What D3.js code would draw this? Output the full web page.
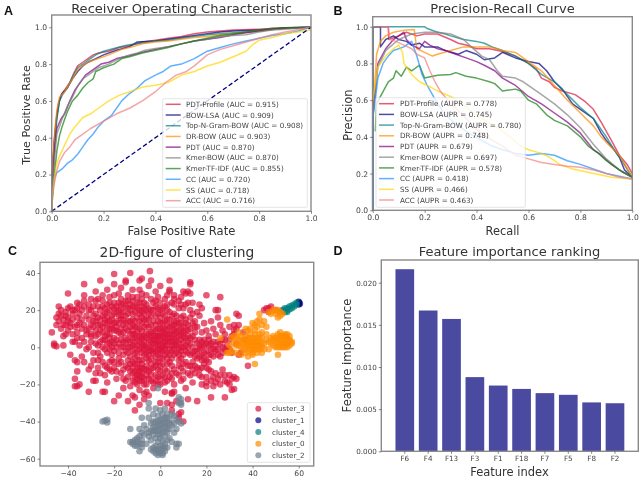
<!DOCTYPE html>
<html><head><meta charset="utf-8">
<script src="https://cdn.jsdelivr.net/npm/d3@7"></script>
<style>html,body{margin:0;padding:0;background:#fff}svg{display:block;filter:blur(0.4px)}text{font-family:"DejaVu Sans",sans-serif}</style>
</head><body><svg id="c" width="642" height="481"></svg>
<script>
const rocNames=["PDT-Profile (AUC = 0.915)","BOW-LSA (AUC = 0.909)","Top-N-Gram-BOW (AUC = 0.908)","DR-BOW (AUC = 0.903)","PDT (AUC = 0.870)","Kmer-BOW (AUC = 0.870)","Kmer-TF-IDF (AUC = 0.855)","CC (AUC = 0.720)","SS (AUC = 0.718)","ACC (AUC = 0.716)"];
const prNames=["PDT-Profile (AUPR = 0.778)","BOW-LSA (AUPR = 0.745)","Top-N-Gram-BOW (AUPR = 0.780)","DR-BOW (AUPR = 0.748)","PDT (AUPR = 0.679)","Kmer-BOW (AUPR = 0.697)","Kmer-TF-IDF (AUPR = 0.578)","CC (AUPR = 0.418)","SS (AUPR = 0.466)","ACC (AUPR = 0.463)"];
const lineColors=["#dc143c","#000080","#008080","#ff8c00","#800080","#808080","#138013","#1e90ff","#ffd700","#f08080"];

const rocProfile=[[0,0],[.003,.2],[.008,.35],[.015,.47],[.025,.58],[.035,.63],[.05,.66],[.07,.7],[.085,.75],[.1,.79],[.12,.81],[.14,.83],[.16,.85],[.18,.86],[.22,.87],[.26,.89],[.3,.9],[.35,.92],[.4,.93],[.45,.94],[.5,.95],[.55,.965],[.6,.975],[.65,.98],[.7,.985],[.8,.99],[.9,.998],[1,1]];
const rocLsa=[[0,0],[.003,.22],[.01,.38],[.02,.52],[.03,.6],[.04,.64],[.06,.67],[.08,.72],[.1,.76],[.12,.79],[.14,.81],[.17,.83],[.2,.85],[.25,.875],[.3,.895],[.33,.92],[.4,.925],[.45,.935],[.5,.945],[.55,.955],[.6,.965],[.65,.975],[.7,.98],[.8,.985],[.85,.99],[.9,.997],[1,1]];
const rocTopN=[[0,0],[.003,.2],[.01,.36],[.02,.5],[.03,.6],[.04,.63],[.06,.67],[.08,.73],[.1,.78],[.13,.81],[.17,.85],[.2,.87],[.24,.885],[.28,.9],[.3,.905],[.35,.915],[.4,.925],[.45,.93],[.5,.94],[.55,.95],[.6,.96],[.65,.965],[.7,.97],[.8,.98],[.9,.995],[1,1]];
const rocDr=[[0,0],[.003,.22],[.01,.4],[.02,.55],[.03,.62],[.05,.65],[.08,.72],[.1,.77],[.14,.81],[.18,.83],[.22,.85],[.27,.88],[.3,.89],[.35,.91],[.4,.92],[.45,.925],[.5,.935],[.55,.945],[.6,.95],[.65,.96],[.7,.965],[.8,.98],[.9,.995],[1,1]];
const rocPdt=[[0,0],[.005,.2],[.012,.35],[.02,.45],[.035,.5],[.05,.53],[.07,.6],[.09,.66],[.11,.7],[.13,.74],[.16,.77],[.19,.8],[.22,.81],[.25,.83],[.3,.845],[.35,.865],[.4,.88],[.45,.895],[.5,.91],[.55,.925],[.6,.935],[.65,.945],[.7,.96],[.75,.97],[.8,.98],[.85,.99],[.9,.995],[1,1]];
const rocKmer=[[0,0],[.005,.18],[.012,.3],[.02,.42],[.04,.5],[.06,.57],[.08,.62],[.1,.68],[.12,.72],[.15,.75],[.18,.78],[.22,.8],[.26,.83],[.3,.85],[.33,.86],[.36,.875],[.4,.885],[.45,.895],[.5,.91],[.55,.925],[.6,.935],[.65,.95],[.7,.955],[.75,.96],[.8,.975],[.85,.985],[.9,.99],[1,1]];
const rocTfidf=[[0,0],[.005,.12],[.012,.22],[.02,.33],[.03,.41],[.04,.46],[.05,.5],[.06,.54],[.08,.6],[.1,.63],[.12,.67],[.14,.7],[.16,.72],[.17,.76],[.2,.78],[.24,.8],[.27,.83],[.3,.84],[.35,.86],[.4,.875],[.45,.89],[.5,.91],[.55,.925],[.6,.94],[.65,.955],[.7,.965],[.75,.975],[.8,.985],[.85,.995],[1,1]];
const rocCc=[[0,0],[.003,.1],[.01,.18],[.02,.21],[.04,.23],[.06,.26],[.08,.28],[.1,.31],[.12,.35],[.14,.39],[.16,.42],[.18,.46],[.2,.49],[.23,.52],[.25,.56],[.27,.6],[.3,.64],[.33,.67],[.36,.71],[.4,.74],[.43,.76],[.46,.79],[.5,.8],[.55,.83],[.6,.87],[.65,.89],[.7,.91],[.75,.925],[.8,.94],[.85,.955],[.9,.965],[.95,.98],[1,1]];
const rocSs=[[0,0],[.003,.1],[.01,.18],[.02,.26],[.03,.3],[.05,.36],[.07,.42],[.09,.46],[.12,.51],[.15,.53],[.18,.56],[.22,.6],[.26,.63],[.3,.65],[.35,.675],[.4,.685],[.45,.7],[.5,.74],[.55,.76],[.6,.79],[.65,.81],[.7,.84],[.75,.87],[.77,.9],[.8,.93],[.85,.945],[.9,.965],[.95,.975],[1,.985]];
const rocAcc=[[0,0],[.003,.08],[.01,.15],[.02,.22],[.03,.27],[.05,.32],[.07,.35],[.09,.39],[.12,.42],[.15,.45],[.2,.49],[.25,.53],[.3,.56],[.35,.6],[.4,.65],[.44,.7],[.48,.74],[.52,.76],[.55,.79],[.6,.85],[.65,.88],[.7,.9],[.75,.92],[.8,.94],[.85,.96],[.9,.975],[1,1]];
const rocChance=[[0,0],[1,1]];

const prProfile=[[0,0],[0,1],[.06,1],[.062,.93],[.1,.95],[.13,.97],[.17,.95],[.2,.96],[.25,.96],[.3,.93],[.33,.91],[.36,.9],[.4,.88],[.45,.88],[.5,.865],[.55,.84],[.6,.8],[.63,.77],[.65,.72],[.68,.7],[.7,.67],[.73,.65],[.78,.63],[.82,.59],[.85,.55],[.88,.48],[.9,.43],[.92,.38],[.95,.3],[.98,.25],[1,.2]];
const prLsa=[[0,0],[0,1],[.03,1],[.03,.89],[.05,.93],[.08,.95],[.1,.93],[.13,.92],[.15,.9],[.18,.91],[.2,.89],[.25,.89],[.28,.87],[.33,.85],[.36,.87],[.4,.85],[.43,.82],[.47,.83],[.5,.86],[.55,.83],[.6,.81],[.64,.8],[.67,.76],[.7,.7],[.73,.66],[.77,.58],[.8,.55],[.85,.5],[.88,.42],[.9,.38],[.93,.33],[.95,.29],[.97,.22],[1,.18]];
const prTopN=[[0,0],[0,1],[.2,1],[.21,.99],[.25,.97],[.28,.96],[.3,.95],[.35,.93],[.4,.92],[.43,.91],[.46,.89],[.5,.87],[.55,.84],[.6,.8],[.65,.74],[.7,.7],[.75,.63],[.8,.56],[.85,.5],[.88,.44],[.9,.4],[.93,.33],[.96,.27],[1,.18]];
const prDr=[[0,.5],[.015,.85],[.03,.92],[.05,.95],[.08,.97],[.12,.98],[.16,.985],[.165,.93],[.17,.88],[.2,.86],[.23,.84],[.25,.85],[.3,.87],[.35,.89],[.4,.89],[.45,.89],[.5,.87],[.55,.86],[.6,.81],[.65,.76],[.7,.68],[.75,.6],[.8,.53],[.85,.46],[.88,.4],[.9,.37],[.95,.3],[1,.18]];
const prPdt=[[0,.5],[.02,.8],[.05,.88],[.08,.93],[.12,.97],[.13,.93],[.15,.9],[.18,.88],[.2,.92],[.22,.9],[.25,.88],[.28,.87],[.32,.85],[.36,.83],[.4,.81],[.43,.79],[.47,.76],[.5,.72],[.55,.68],[.6,.62],[.65,.58],[.7,.53],[.75,.48],[.8,.42],[.85,.33],[.88,.3],[.92,.25],[.96,.21],[1,.18]];
const prKmer=[[0,.5],[.02,.78],[.05,.87],[.1,.93],[.15,.96],[.2,.97],[.25,.97],[.3,.96],[.35,.93],[.38,.89],[.42,.84],[.45,.82],[.48,.76],[.5,.73],[.55,.72],[.58,.7],[.62,.66],[.66,.62],[.7,.58],[.75,.52],[.8,.45],[.85,.36],[.9,.28],[.95,.22],[1,.18]];
const prTfidf=[[.01,.43],[.015,.58],[.03,.62],[.06,.7],[.08,.72],[.09,.76],[.11,.73],[.13,.78],[.15,.76],[.18,.79],[.2,.72],[.25,.735],[.3,.74],[.32,.75],[.36,.73],[.4,.72],[.45,.7],[.47,.69],[.5,.65],[.55,.66],[.57,.65],[.6,.6],[.63,.58],[.67,.52],[.7,.49],[.75,.46],[.8,.4],[.83,.35],[.87,.31],[.9,.27],[.95,.22],[1,.18]];
const prCc=[[0,0],[0,.5],[.01,.6],[.02,.72],[.04,.8],[.06,.84],[.08,.87],[.1,.88],[.12,.89],[.15,.92],[.17,.84],[.19,.74],[.21,.68],[.23,.63],[.25,.58],[.28,.52],[.32,.47],[.37,.42],[.42,.38],[.46,.35],[.5,.33],[.55,.31],[.6,.3],[.65,.31],[.7,.3],[.75,.27],[.8,.25],[.85,.225],[.9,.2],[.95,.185],[1,.17]];
const prSs=[[0,.6],[.02,.78],[.05,.84],[.08,.88],[.1,.9],[.115,.86],[.12,.8],[.13,.78],[.15,.74],[.18,.7],[.21,.68],[.25,.65],[.3,.62],[.33,.6],[.37,.55],[.42,.5],[.47,.46],[.52,.41],[.57,.35],[.6,.33],[.65,.31],[.68,.29],[.7,.27],[.72,.25],[.77,.225],[.82,.21],[.87,.195],[.92,.18],[1,.17]];
const prAcc=[[0,1],[.06,1],[.065,.93],[.09,.92],[.12,.9],[.15,.88],[.17,.85],[.2,.83],[.22,.76],[.24,.7],[.26,.65],[.3,.58],[.34,.53],[.4,.44],[.45,.39],[.5,.35],[.55,.3],[.6,.28],[.65,.26],[.7,.25],[.75,.24],[.8,.235],[.85,.22],[.9,.2],[.95,.18],[1,.17]];

const cluster3=[[-4.5,41],[-13,40],[-20,39.5],[-26,36],[-33,34],[-40,29],[4,36],[-4,36],[-8,37],[-9,36],[-15,36],[-15,35],[-20,34],[-12,31],[-17,32],[-23,31],[-28,30],[-33,28],[-5,33],[0,33],[-9,31],[-2,30],[4,30],[4,31],[10,30],[12,30],[13,35],[13,34],[11,29],[13,29],[-25,28],[-20,28],[-14,28],[-8,29],[-1,27],[6,28],[26,27],[20,28],[-30,26],[-36,24],[-35,23],[-44,22],[-39,22],[-25,25],[-17,26],[-10,27],[-4,26],[2,26],[8,25],[14,24],[12,24],[17,23],[24,20],[25,20],
[-44,18],[-45,16],[-44,14],[-45,12],[-43,20],[-41,19],[-40,16],[-38,18],[-37,20],[-43,10],[-41,12],[-39,13],[-40,9],[-37,11],[-41,7],[-38,7],[-35,13],[-36,8],[-34,20],[-32,17],[-33,12],[-31,10],[-30,20],[-29,14],[-28,9],[-28,18],[-27,22],[-26,12],[-25,17],[-25,8],[-24,21],[-23,13],[-22,10],[-22,24],[-21,17],[-20,21],[-20,13],[-19,9],[-18,24],[-18,17],[-17,20],[-16,12],[-16,23],[-15,17],[-14,9],[-14,21],[-13,14],[-12,25],[-12,18],[-11,22],[-11,11],[-10,16],[-9,20],[-9,24],[-8,13],[-8,9],[-7,18],[-6,23],[-6,15],[-5,11],[-4,20],[-3,24],[-3,14],[-2,17],[-1,21],[-1,10],[0,24],[0,13],[1,18],[2,22],[2,10],[3,15],[4,19],[5,12],[6,23],[6,9],[7,17],[8,21],[8,13],[9,10],[10,17],[11,23],[11,13],[12,9],[14,18],[15,14],[16,11],[17,17],[18,21],[19,13],[20,9],[22,14],[23,10],[25,16],[26,12],[27,9],[28,7],[30,11],[32,12],[33,18],[34,17],[33,10],[36,8],
[-23,19],[-19,19],[-13,23],[-7,21],[-24,15],[-21,12],[-17,15],[-12,12],[-8,16],[-5,18],[-4,8],[1,8],[4,7],[-2,6],[3,12],[6,14],[9,7],[12,6],[15,8],[18,8],[21,6],[24,7],
[-47,8],[-46,2],[-46,1],[-45,.5],[-42,6],[-42,1],[-39,-4],[-37,3],[-35,1],[-34,5],[-32,-1],[-32,7],[-30,3],[-29,-3],[-28,6],[-27,1],[-26,-5],[-25,4],[-24,-1],[-23,7],[-22,2],[-21,-4],[-20,5],[-19,0],[-18,-6],[-17,7],[-16,3],[-15,-2],[-14,4],[-13,-5],[-12,1],[-12,7],[-11,-3],[-10,4],[-9,-1],[-9,-7],[-8,2],[-7,6],[-7,-4],[-6,0],[-5,4],[-5,-7],[-4,-2],[-3,2],[-3,6],[-2,-5],[-1,1],[-1,-8],[0,4],[0,-3],[1,6],[1,-6],[2,1],[3,-3],[3,4],[4,-8],[5,1],[5,6],[6,-4],[7,3],[8,-1],[9,4],[9,-6],[10,0],[11,5],[12,-3],[13,2],[14,-8],[14,6],[15,-2],[16,2],[17,-5],[18,0],[19,-3],[19,4],[20,-7],[21,1],[22,-4],[23,3],[24,-2],[25,3],[26,-5],[27,0],[28,4],[29,-2],[30,4],[31,-3],[32,7],[33,2],[35,-3],[34,-4],[37,4],
[-37,-7],[-36,-8],[-36,-13],[-37,-17],[-37,-21],[-36,-21],[-35,-20],[-33,-8],[-31,-12],[-31,-24],[-29,-18],[-28,-18],[-29,-7],[-27,-11],[-26,-14],[-25,-8],[-25,-24],[-24,-24],[-23,-19],[-23,-11],[-21,-13],[-21,-7],[-20,-29],[-20,-11],[-19,-17],[-18,-26],[-18,-9],[-17,-14],[-16,-22],[-15,-10],[-15,-18],[-14,-29],[-13,-13],[-13,-21],[-12,-8],[-12,-26],[-11,-16],[-11,-27],[-10,-12],[-10,-20],[-9,-15],[-9,-23],[-9,-31],[-8,-11],[-8,-18],[-7,-28],[-7,-25],[-6,-10],[-6,-15],[-6,-20],[-5,-26],[-4,-12],[-4,-18],[-3,-22],[-2,-10],[-2,-15],[-1,-20],[0,-13],[0,-17],[1,-9],[2,-19],[2,-24],[3,-13],[3,-30],[4,-16],[5,-10],[5,-25],[6,-20],[6,-24],[7,-14],[7,-29],[8,-10],[9,-18],[10,-13],[11,-8],[11,-22],[12,-14],[12,-28],[13,-10],[14,-19],[14,-12],[16,-11],[16,-29],[17,-15],[18,-20],[19,-9],[20,-16],[21,-12],[22,-18],[22,-27],[23,-21],[24,-14],[25,-17],[26,-20],[27,-12],[28,-18],[28,-27],[30,-15],[31,-17],[31,-23],[32,-16],[32,-22.5],[33,-17],[24,-19],[20,-21],[5,-24.5],
[8,-36],[9,-35],[10,-40],[5,-34],[8,-38],[-11,-34],[5,-31],[0,-30],[38,-10],[46,21],[45,20],[47,19],[48,22],[47,21],[50,20],[32,9],[31,6],[34,12]];
const cluster3Dense=[[-43,17],[-42,15],[-42,12],[-41,17],[-40,21],[-40,14],[-39,11],[-38,15],[-38,20],[-36,16],[-36,12],[-35,18],[-34,10],[-34,15],[-33,22],[-32,9],[-31,15],[-31,20],[-30,12],[-30,7],[-29,17],[-29,22],[-29,11],[-28,14],[-27,16],[-27,7],[-27,12],[-26,20],[-26,9],[-26,15],[-25,22],[-25,11],[-24,18],[-24,13],[-24,6],[-23,23],[-23,16],[-23,10],[-22,20],[-22,14],[-22,7],[-21,22],[-21,10],[-21,15],[-20,18],[-20,9],[-20,24],[-19,14],[-19,22],[-19,11],[-18,20],[-18,13],[-18,8],[-17,23],[-17,17],[-17,10],[-16,19],[-16,15],[-16,8],[-15,22],[-15,13],[-15,10],[-14,25],[-14,18],[-14,14],[-13,20],[-13,11],[-13,7],[-12,22],[-12,15],[-12,9],[-11,19],[-11,14],[-11,7],[-10,24],[-10,21],[-10,11],[-10,8],[-9,18],[-9,14],[-9,10],[-8,22],[-8,19],[-8,6],[-7,15],[-7,11],[-7,24],[-6,20],[-6,12],[-6,8],[-5,21],[-5,15],[-5,7],[-4,17],[-4,12],[-3,20],[-3,9],[-2,22],[-2,12],[-2,9],[-1,18],[-1,14],[-1,6],[0,20],[0,16],[0,10],[1,13],[1,21],[1,10],[2,17],[2,14],[2,7],[3,20],[3,9],[4,15],[4,11],[5,17],[5,9],[6,12],[6,18],[7,14],[7,8],[7,11],[8,9],[9,13],[9,16],[10,11],[10,8],[11,15],[11,9],[12,12],[13,16],[13,10],[14,13],[15,11],
[-38,3],[-36,5],[-33,3],[-31,0],[-30,6],[-28,2],[-27,-3],[-26,3],[-25,0],[-24,4],[-23,-3],[-23,2],[-22,-1],[-22,5],[-21,0],[-21,3],[-20,-2],[-20,2],[-19,4],[-18,2],[-18,-3],[-17,0],[-17,4],[-16,-4],[-16,0],[-15,2],[-15,5],[-14,0],[-14,-3],[-13,3],[-13,0],[-12,4],[-12,-2],[-11,1],[-11,5],[-11,-6],[-10,-2],[-10,1],[-10,-5],[-9,3],[-9,6],[-8,-3],[-8,0],[-8,5],[-8,-7],[-7,1],[-7,3],[-7,-1],[-6,5],[-6,-3],[-6,-6],[-5,1],[-5,-2],[-5,-4],[-4,3],[-4,0],[-4,6],[-4,-6],[-3,-1],[-3,4],[-3,-3],[-2,2],[-2,-2],[-2,4],[-2,-8],[-1,-1],[-1,3],[-1,-4],[-1,6],[0,1],[0,7],[0,-1],[0,-6],[1,3],[1,-2],[1,0],[2,5],[2,-1],[2,-4],[2,3],[3,1],[3,7],[3,-6],[4,3],[4,-1],[4,-4],[4,5],[5,3],[5,-2],[5,-6],[6,1],[6,4],[6,7],[6,-1],[7,-3],[7,5],[7,1],[8,2],[8,6],[8,-4],[8,-7],[9,0],[9,-2],[10,3],[10,6],[10,-4],[11,1],[11,-2],[12,3],[12,0],[13,-4],[13,5],[14,0],[14,-3],[15,4],[15,-5],[16,-2],[16,-6],[17,-1],[17,1],[17,4],[18,-4],[18,-7],[18,3],[19,-6],[19,1],[20,-2],[20,2],[21,-4],[21,-8],[21,4],[22,-1],[22,2],[23,-5],[23,-1],[24,1],[25,-4],[25,-1],[26,2],[27,4],[27,-3],[28,-1],[29,1],[30,-1],
[-34,-5],[-30,-10],[-28,-14],[-27,-7],[-24,-10],[-24,-15],[-22,-8],[-22,-12],[-20,-8],[-19,-13],[-17,-8],[-16,-12],[-16,-17],[-14,-7],[-14,-11],[-14,-16],[-13,-9],[-12,-11],[-12,-14],[-12,-18],[-11,-9],[-11,-13],[-11,-19],[-10,-9],[-10,-15],[-10,-17],[-9,-11],[-9,-13],[-9,-18],[-8,-9],[-8,-14],[-8,-16],[-7,-12],[-7,-17],[-7,-20],[-6,-12],[-6,-24],[-5,-13],[-5,-17],[-4,-9],[-4,-15],[-3,-11],[-3,-19],[-2,-18],[-1,-12],[-1,-16],[0,-10],[0,-20],[1,-15],[2,-12],[2,-16],[3,-9],[3,-18],[5,-14],[5,-17],[6,-12],[8,-15],[9,-11],[10,-9],[10,-17],[12,-10],[13,-15],[15,-14],[15,-10],[17,-12],[18,-11],[18,-16],[20,-11],[20,-19],[22,-13],[23,-16],[26,-15],[28,-15],[29,-19],[30,-20],
[-27,26],[-22,27],[-18,29],[-12,27],[-6,28],[-2,25],[3,28],[6,26],[9,27],[10,21],[13,20],[16,19],[-33,25],[-36,21],[-31,23],[-28,25],[-15,25],[-8,26],[5,24],[3,23],[9,23]];
const cluster1=[[60,24.5],[60,24],[60.5,23.5],[60,23]];
const cluster4=[[52,19],[53,19.5],[53,20],[54,19],[54,21],[55,20],[55,21],[56,20.5],[56,22],[57,21],[57,22.5],[58,22],[58,23],[59,23],[59,24],[55,19]];
const cluster0=[[29,15],[26,5],[43,15],[42,14],[45,14],[44,12],[43,18],[41,12],[40,13],[42,11],[39,10],[37,10],[46,11],[46,7],[44,8],[48,5],[41,9],[47,19],[49,20],[50,20],[50,18],[51,20],[52,17],[51,16],[52,19],[53,18],[48,18],
[29,-3],[30,1],[31,-2],[32,2],[32,6],[33,-3],[33,5],[34,1],[34,8],[35,-4],[35,3],[35,6],[36,-1],[36,4],[37,-3],[37,6],[37,2],[38,-5],[38,1],[38,5],[38,9],[39,-1],[39,3],[39,7],[40,-3],[40,1],[40,5],[40,-4],[41,-1],[41,3],[41,7],[42,1],[42,-3],[42,5],[43,-1],[43,3],[43,7],[44,0],[44,-3],[44,5],[45,2],[45,-1],[46,4],[41,-9],[47,-1],[47,3],[48,2],[49,4],[49,1],[50,0],[50,5],[51,7],[51,2],[51,-4],[52,4],[52,0],[52,8],[53,2],[53,6],[54,4],[54,0],[54,7],[55,2],[55,5],[56,3],[56,6],[56,1],[57,3],[57,2],[49,6],[50,3],
[36,2],[37,0],[38,3],[38,-2],[39,1],[39,5],[40,3],[40,-1],[41,1],[41,5],[42,3],[42,-1],[43,1],[43,5],[44,2],[51,5],[51,0],[52,2],[52,6],[53,4],[53,0],[54,2],[54,6],[55,0],[55,4],[55,7],[56,4],[33,1],[34,4],[35,0],[31,5],[30,-3]];
const cluster2=[[-23,-39],[-24,-39.5],[-25,-40],[-23,-40.5],[-13,-44],[-13,-51],[-12,-51],[-11,-50],[-11,-53],[-10,-49],[-10,-53],[-9,-48],[-9,-52],[-9,-44],[-9,-56],[-8,-38],[-8,-46],[-8,-50],[-8,-54],[-7,-42],[-7,-47],[-6,-44],[-6,-52],[-5,-38],[-5,-48],[-5,-46],[-5,-30],[-5,-33],[-4,-41],[-4,-45],[-4,-50],[-4,-55],[-3,-36],[-3,-43],[-3,-47],[-3,-56],[-2,-33],[-2,-40],[-2,-45],[-2,-49],[-2,-53],[-2,-57],[-1,-22],[-1,-37],[-1,-42],[-1,-47],[-1,-51],[-1,-55],[-1,-58],[0,-34],[0,-39],[0,-44],[0,-49],[0,-53],[0,-57],[1,-36],[1,-41],[1,-46],[1,-50],[1,-55],[1,-58],[2,-33],[2,-38],[2,-43],[2,-52],[2,-56],[3,-36],[3,-41],[3,-46],[3,-50],[3,-54],[4,-39],[4,-44],[4,-49],[5,-36],[5,-42],[5,-51],[6,-37],[6,-41],[6,-46],[7,-39],[7,-52],[7,-54],[8,-27],[8,-30],[8,-52],[9,-28],[9,-30],[9,-31],[9,-41],[8,-40],[7,-44],[-12,-52],[-10,-51],[-8,-52],[-3,-40],[-3,-45],[-2,-43],[-1,-40],[-1,-45],[0,-42],[0,-47],[1,-39],[1,-44],[1,-53],[2,-41],[2,-47],[3,-38],[3,-44],[4,-41],[-1,-56],[0,-55],[-2,-55],[-3,-54],[1,-57],[2,-54]];
const clusterNames=["cluster_3","cluster_1","cluster_4","cluster_0","cluster_2"];
const clusterColors=["#dc143c","#000080","#008080","#ff8c00","#708090"];

const features=["F6","F4","F13","F3","F1","F18","F7","F5","F8","F2"];
const importance=[.0216,.0167,.0157,.0088,.0078,.0074,.0069,.0067,.0058,.0057];

const svg=d3.select("#c");
const tc="#444", sc="#8a8a8a";
function frame(x0,x1,y0,y1){svg.append("rect").attr("x",x0).attr("y",y1).attr("width",x1-x0).attr("height",y0-y1).attr("fill","none").attr("stroke",sc).attr("stroke-width",1.4);}
function axes(x,y,xt,yt,y0,x0,fx,fy,fs){
 const ax=svg.append("g").attr("transform",`translate(0,${y0})`).call(d3.axisBottom(x).tickValues(xt).tickFormat(fx).tickSize(2.5).tickPadding(2));
 const ay=svg.append("g").attr("transform",`translate(${x0},0)`).call(d3.axisLeft(y).tickValues(yt).tickFormat(fy).tickSize(2.5).tickPadding(2));
 [ax,ay].forEach(a=>{a.select(".domain").remove();a.selectAll("line").attr("stroke","#555").attr("stroke-width",.7);a.selectAll("text").attr("fill",tc).attr("font-size",fs);});
}
function label(t,x,y,fs,rot){const e=svg.append("text").text(t).attr("x",x).attr("y",y).attr("font-size",fs).attr("fill","#333").attr("text-anchor","middle");if(rot)e.attr("transform",`rotate(-90 ${x} ${y})`);return e;}
function legendBox(x0,x1,y0,y1){svg.append("rect").attr("x",x0).attr("y",y0).attr("width",x1-x0).attr("height",y1-y0).attr("rx",1.5).attr("fill","#fff").attr("fill-opacity",.8).attr("stroke","#ddd").attr("stroke-width",.8);}

function curvePanel(cfg){
 const x=d3.scaleLinear().domain([0,1]).range([cfg.x0,cfg.x1]);
 const y=d3.scaleLinear().domain([0,1]).range([cfg.y0,cfg.y1]);
 const ln=d3.line().x(d=>x(d[0])).y(d=>y(d[1]));
 cfg.series.forEach((s,i)=>svg.append("path").attr("d",ln(s)).attr("fill","none").attr("stroke",lineColors[i]).attr("stroke-opacity",.7).attr("stroke-width",1.5).attr("stroke-linejoin","round"));
 if(cfg.chance) svg.append("path").attr("d",ln(cfg.chance)).attr("fill","none").attr("stroke","#000080").attr("stroke-width",1.3).attr("stroke-dasharray","4.5 2.5");
 const t=[0,.2,.4,.6,.8,1];
 frame(cfg.x0,cfg.x1,cfg.y0,cfg.top);
 axes(x,y,t,t,cfg.y0,cfg.x0,d3.format(".1f"),d3.format(".1f"),"7.6px");
 legendBox(cfg.lx0,cfg.lx1,cfg.ly0,cfg.ly1);
 const ly=d3.scalePoint().domain(d3.range(10)).range([cfg.ra,cfg.rb]);
 cfg.names.forEach((n,i)=>{
  svg.append("line").attr("x1",cfg.lx0+3).attr("x2",cfg.lx0+18).attr("y1",ly(i)).attr("y2",ly(i)).attr("stroke",lineColors[i]).attr("stroke-opacity",.7).attr("stroke-width",1.5);
  svg.append("text").text(n).attr("x",cfg.lx0+cfg.tx).attr("y",ly(i)+2.6).attr("font-size","7.2px").attr("fill",tc);
 });
}
curvePanel({x0:51.7,x1:311,y0:211.3,y1:27.3,top:15,series:[rocProfile,rocLsa,rocTopN,rocDr,rocPdt,rocKmer,rocTfidf,rocCc,rocSs,rocAcc],chance:rocChance,names:rocNames,lx0:162.7,lx1:307.3,ly0:98.7,ly1:207.3,ra:104.3,rb:200.7,tx:23.3});
curvePanel({x0:372.7,x1:632.3,y0:210.3,y1:26.7,top:16.7,series:[prProfile,prLsa,prTopN,prDr,prPdt,prKmer,prTfidf,prCc,prSs,prAcc],names:prNames,lx0:376,lx1:525.3,ly0:97.7,ly1:207.3,ra:103.7,rb:200,tx:24});

label("Receiver Operating Characteristic",181.5,13.3,"13.05px");
label("Precision-Recall Curve",502.5,13,"13.05px");
label("False Positive Rate",181.5,235,"11.6px");
label("Recall",502.5,234.5,"11.4px");
label("True Positive Rate",30,115,"11.2px",true);
label("Precision",352,115,"11.5px",true);

// C
const cx=d3.scaleLinear().domain([-40,60]).range([68,298.7]);
const cy=d3.scaleLinear().domain([-60,40]).range([458.7,273]);
[cluster3.concat(cluster3Dense),cluster1,cluster4,cluster0,cluster2].forEach((pts,i)=>{
 svg.append("g").selectAll("circle").data(pts).join("circle").attr("cx",d=>cx(d[0])).attr("cy",d=>cy(d[1])).attr("r",3.3).attr("fill",clusterColors[i]).attr("fill-opacity",.7);
});
frame(40,313.7,466,262.3);
axes(cx,cy,[-40,-20,0,20,40,60],[-60,-40,-20,0,20,40],466,40,d3.format("d"),d3.format("d"),"7.6px");
legendBox(247.3,310,402.7,462.3);
const cly=d3.scalePoint().domain(clusterNames).range([408.7,455.3]);
clusterNames.forEach((n,i)=>{
 svg.append("circle").attr("cx",258.3).attr("cy",cly(n)).attr("r",3).attr("fill",clusterColors[i]).attr("fill-opacity",.7);
 svg.append("text").text(n).attr("x",272).attr("y",cly(n)+2.6).attr("font-size","7.2px").attr("fill",tc);
});
label("2D-figure of clustering",177,257,"13.8px");

// D
const bx=d3.scaleBand().domain(features).range([390.8,629]).padding(.2);
const by=d3.scaleLinear().domain([0,.02]).range([451.3,282.7]);
svg.selectAll("rect.bar").data(importance).join("rect").attr("class","bar").attr("x",(d,i)=>bx(features[i])).attr("width",bx.bandwidth()).attr("y",d=>by(d)).attr("height",d=>451.3-by(d)).attr("fill","#4a4aa0");
svg.append("rect").attr("x",381.3).attr("y",260).attr("width",257).attr("height",191.3).attr("fill","none").attr("stroke",sc).attr("stroke-width",1.4);
axes(bx,by,features,[0,.005,.01,.015,.02],451.3,381.3,d=>d,d3.format(".3f"),"7.2px");
label("Feature importance ranking",509.5,256,"13.05px");
label("Feature index",509.5,475.5,"11.5px");
label("Feature importance",351,355.5,"11.6px",true);

// panel letters
[["A",4,15,"bold"],["B",333.5,15,"bold"],["C",8,255,"bold"],["D",333.5,255,"bold"]].forEach(p=>svg.append("text").text(p[0]).attr("x",p[1]).attr("y",p[2]).attr("font-size","12.5px").attr("font-weight",p[3]).attr("fill","#111").style("font-family","'Liberation Sans',sans-serif"));
</script></body></html>
